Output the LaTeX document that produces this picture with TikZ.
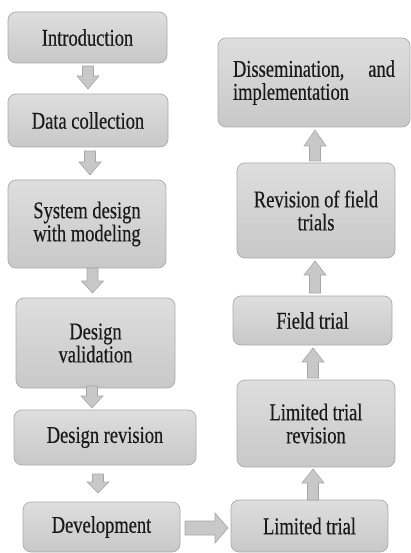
\documentclass[tikz,border=0pt]{standalone}
\usepackage{fontspec}
\setmainfont{Liberation Serif}[FakeStretch=0.77,FakeBold=0.4]
\usetikzlibrary{calc}
\definecolor{boxtop}{HTML}{DEDEDE}
\definecolor{boxbot}{HTML}{C8C8C8}
\definecolor{boxline}{HTML}{ABABAB}
\definecolor{arrfill}{HTML}{C8C8C8}
\definecolor{arrline}{HTML}{A6A6A6}
\definecolor{txt}{HTML}{1A1A1A}
\newcommand\blockarr[5]{%
  \coordinate (hb) at ($(#2)!#5!(#1)$);
  \draw[arrstyle] ($(#1)!#3!90:(#2)$) -- ($(hb)!#3!90:(#2)$) -- ($(hb)!#4!90:(#2)$)
    -- (#2) -- ($(hb)!#4!-90:(#2)$) -- ($(hb)!#3!-90:(#2)$) -- ($(#1)!#3!-90:(#2)$) -- cycle;}
\begin{document}
\begin{tikzpicture}[x=1pt,y=-1pt,
  box/.style={draw=boxline, line width=0.7pt, rounded corners=8pt,
    top color=boxtop, bottom color=boxbot, text=txt, align=center,
    inner sep=0pt, font=\fontsize{24}{23}\selectfont},
  arrstyle/.style={draw=arrline, line width=0.6pt, fill=arrfill}]
\useasboundingbox (0,0) rectangle (411,553);
% left column
\node[box, minimum width=159pt, minimum height=51pt] (intro) at (87.5,37.5) {Introduction};
\node[box, minimum width=160pt, minimum height=53pt] (data) at (88,120.5) {Data collection};
\node[box, minimum width=158pt, minimum height=88pt] (sys) at (87,224) {System design\\with modeling};
\node[box, minimum width=159pt, minimum height=90pt] (val) at (95.5,343) {Design\\validation};
\node[box, minimum width=182pt, minimum height=55pt] (rev) at (105,437.5) {Design revision};
\node[box, minimum width=157pt, minimum height=50pt] (dev) at (101.5,527) {Development};
% right column
\node[box, minimum width=157pt, minimum height=52pt] (lim) at (309.5,526) {Limited trial};
\node[box, minimum width=158pt, minimum height=87pt] (limrev) at (316,423.5) {Limited trial\\revision};
\node[box, minimum width=159pt, minimum height=49pt] (field) at (312.5,320.5) {Field trial};
\node[box, minimum width=158pt, minimum height=95pt] (fieldrev) at (316,210.5) {Revision of field\\trials};
\node[box, minimum width=192pt, minimum height=89pt, align=left] (dis) at (314,82.5)
  {\hbox to 162pt{Dissemination,\hfill and}\\implementation};
% arrow end points
\coordinate (a1s) at (88,66);   \coordinate (a1e) at (88,89);
\coordinate (a2s) at (90,151);  \coordinate (a2e) at (90,175);
\coordinate (a3s) at (92.5,268); \coordinate (a3e) at (92.5,293);
\coordinate (a4s) at (92,386);  \coordinate (a4e) at (92,408);
\coordinate (a5s) at (98,474);  \coordinate (a5e) at (98,493);
\coordinate (hs) at (185,528);  \coordinate (he) at (228,528);
\coordinate (u1s) at (313,500); \coordinate (u1e) at (313,469);
\coordinate (u2s) at (313,378); \coordinate (u2e) at (313,348);
\coordinate (u3s) at (315,293); \coordinate (u3e) at (315,261);
\coordinate (u4s) at (315,161); \coordinate (u4e) at (315,130);
% arrows
\blockarr{a1s}{a1e}{5.5pt}{11pt}{13pt}
\blockarr{a2s}{a2e}{5.5pt}{11pt}{13pt}
\blockarr{a3s}{a3e}{5.5pt}{11pt}{12pt}
\blockarr{a4s}{a4e}{5.5pt}{11pt}{12pt}
\blockarr{a5s}{a5e}{5.5pt}{11pt}{11pt}
\blockarr{hs}{he}{7pt}{15pt}{13pt}
\blockarr{u1s}{u1e}{5.5pt}{11pt}{14pt}
\blockarr{u2s}{u2e}{5.5pt}{11pt}{14pt}
\blockarr{u3s}{u3e}{5.5pt}{11pt}{14pt}
\blockarr{u4s}{u4e}{5.5pt}{11pt}{16pt}
\end{tikzpicture}
\end{document}
